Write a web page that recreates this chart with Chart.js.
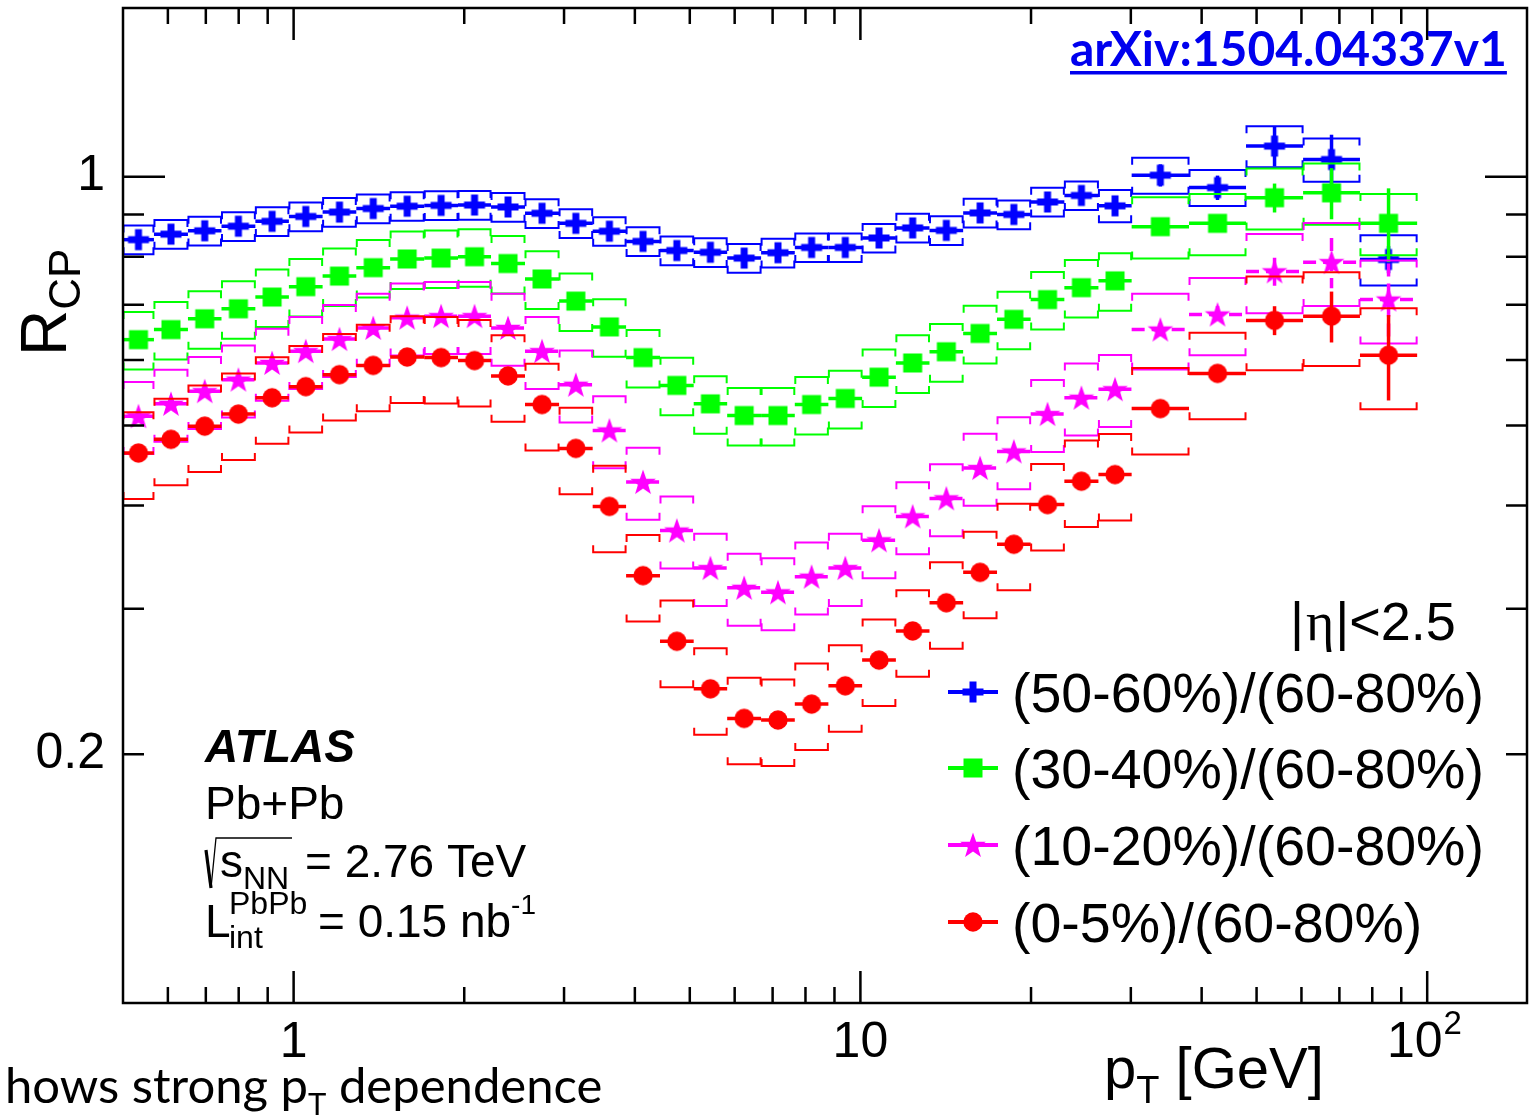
<!DOCTYPE html>
<html>
<head>
<meta charset="utf-8">
<script src="https://cdn.jsdelivr.net/npm/chart.js@4.4.1/dist/chart.umd.min.js"></script>
<style>
  html, body { margin: 0; padding: 0; background: #fff; }
  #rcpChart { display: block; }
</style>
</head>
<body>
<canvas id="rcpChart" width="1531" height="1117"></canvas>
<script>
// pT bin edges [GeV]
const ptEdges = [0.5, 0.567, 0.651, 0.746, 0.856, 0.981, 1.125, 1.29, 1.48, 1.70,
  1.95, 2.23, 2.56, 2.94, 3.37, 3.86, 4.43, 5.08, 5.82, 6.68,
  7.66, 8.78, 10.07, 11.55, 13.24, 15.18, 17.42, 19.97, 22.9, 26.3,
  30.1, 38.0, 47.9, 60.4, 76.1, 96.0];

// R_CP per bin, one array per centrality ratio
const rcp5060 = [0.839, 0.852, 0.860, 0.871, 0.883, 0.895, 0.906, 0.915, 0.921, 0.923,
  0.924, 0.919, 0.903, 0.878, 0.859, 0.835, 0.814, 0.810, 0.797, 0.809,
  0.821, 0.821, 0.843, 0.867, 0.861, 0.904, 0.900, 0.932, 0.949, 0.922,
  1.004, 0.970, 1.089, 1.049, 0.794];
const rcp3040 = [0.635, 0.653, 0.673, 0.692, 0.715, 0.736, 0.758, 0.776, 0.795, 0.797,
  0.800, 0.785, 0.752, 0.707, 0.658, 0.604, 0.559, 0.531, 0.514, 0.514,
  0.530, 0.539, 0.572, 0.595, 0.614, 0.646, 0.672, 0.710, 0.734, 0.748,
  0.870, 0.878, 0.943, 0.956, 0.878];
const rcp1020 = [0.513, 0.531, 0.550, 0.568, 0.595, 0.615, 0.636, 0.656, 0.675, 0.678,
  0.678, 0.656, 0.615, 0.560, 0.493, 0.427, 0.373, 0.336, 0.318, 0.314,
  0.328, 0.336, 0.363, 0.388, 0.408, 0.444, 0.465, 0.516, 0.540, 0.553,
  0.653, 0.681, 0.768, 0.788, 0.710];
const rcp0005 = [0.463, 0.481, 0.499, 0.516, 0.540, 0.557, 0.576, 0.591, 0.605, 0.604,
  0.599, 0.574, 0.530, 0.469, 0.399, 0.329, 0.274, 0.240, 0.221, 0.220,
  0.230, 0.242, 0.260, 0.282, 0.305, 0.332, 0.359, 0.401, 0.428, 0.436,
  0.524, 0.578, 0.670, 0.678, 0.608];

// statistical uncertainties (absolute)
const stat5060 = [0.003, 0.003, 0.003, 0.003, 0.003, 0.003, 0.003, 0.003, 0.003, 0.003,
  0.003, 0.003, 0.003, 0.003, 0.003, 0.003, 0.003, 0.003, 0.003, 0.003,
  0.004, 0.004, 0.005, 0.005, 0.006, 0.006, 0.007, 0.008, 0.009, 0.010,
  0.031, 0.033, 0.060, 0.075, 0.030];
const stat3040 = [0.003, 0.003, 0.003, 0.003, 0.003, 0.003, 0.003, 0.003, 0.003, 0.003,
  0.003, 0.003, 0.003, 0.003, 0.003, 0.003, 0.003, 0.003, 0.003, 0.003,
  0.003, 0.004, 0.004, 0.005, 0.005, 0.006, 0.007, 0.008, 0.009, 0.010,
  0.015, 0.020, 0.038, 0.068, 0.090];
const stat1020 = [0.003, 0.003, 0.003, 0.003, 0.003, 0.003, 0.003, 0.003, 0.003, 0.003,
  0.003, 0.003, 0.003, 0.003, 0.003, 0.003, 0.003, 0.003, 0.003, 0.003,
  0.003, 0.004, 0.004, 0.004, 0.005, 0.006, 0.006, 0.007, 0.008, 0.009,
  0.012, 0.016, 0.030, 0.055, 0.075];
const stat0005 = [0.003, 0.003, 0.003, 0.003, 0.003, 0.003, 0.003, 0.003, 0.003, 0.003,
  0.003, 0.003, 0.003, 0.003, 0.003, 0.003, 0.003, 0.003, 0.003, 0.003,
  0.003, 0.003, 0.004, 0.004, 0.004, 0.005, 0.005, 0.006, 0.007, 0.008,
  0.010, 0.012, 0.027, 0.048, 0.072];

// systematic uncertainties (relative)
const sys5060 = [0.04, 0.04, 0.04, 0.04, 0.04, 0.04, 0.04, 0.04, 0.04, 0.04,
  0.04, 0.04, 0.04, 0.04, 0.04, 0.04, 0.04, 0.04, 0.04, 0.04,
  0.04, 0.04, 0.04, 0.04, 0.04, 0.04, 0.04, 0.04, 0.04, 0.045,
  0.05, 0.05, 0.057, 0.06, 0.07];
const sys3040 = [0.08, 0.08, 0.08, 0.08, 0.08, 0.08, 0.08, 0.08, 0.08, 0.08,
  0.08, 0.08, 0.08, 0.08, 0.08, 0.08, 0.08, 0.08, 0.08, 0.08,
  0.08, 0.08, 0.08, 0.08, 0.08, 0.08, 0.08, 0.08, 0.08, 0.08,
  0.085, 0.085, 0.085, 0.085, 0.085];
const sys1020 = [0.10, 0.10, 0.10, 0.10, 0.10, 0.10, 0.10, 0.10, 0.10, 0.10,
  0.10, 0.10, 0.10, 0.10, 0.10, 0.10, 0.10, 0.10, 0.10, 0.10,
  0.10, 0.10, 0.10, 0.10, 0.10, 0.10, 0.10, 0.10, 0.10, 0.10,
  0.105, 0.107, 0.11, 0.115, 0.115];
const sys0005 = [0.12, 0.12, 0.12, 0.12, 0.12, 0.12, 0.12, 0.12, 0.12, 0.12,
  0.12, 0.12, 0.12, 0.12, 0.12, 0.12, 0.12, 0.12, 0.12, 0.12,
  0.12, 0.12, 0.12, 0.12, 0.12, 0.12, 0.12, 0.12, 0.12, 0.12,
  0.12, 0.12, 0.13, 0.13, 0.14];

const seriesLabels = ['(50-60%)/(60-80%)', '(30-40%)/(60-80%)', '(10-20%)/(60-80%)', '(0-5%)/(60-80%)'];

// axis ticks
const xLabelTicks = [1, 10, 100];
const xMinorTicks = [0.6, 0.7, 0.8, 0.9, 2, 3, 4, 5, 6, 7, 8, 9, 20, 30, 40, 50, 60, 70, 80, 90];
const yLabelTicks = [0.2, 1];
const yMajorTicks = [1];
const yMinorTicks = [0.2, 0.3, 0.4, 0.5, 0.6, 0.7, 0.8, 0.9];

const SANS = '"Liberation Sans", Arial, Helvetica, sans-serif';

const binCenters = ptEdges.slice(0, -1).map((lo, i) => Math.sqrt(lo * ptEdges[i + 1]));

// filled ROOT-like markers as small canvases
function makeMarker(kind, color) {
  const s = kind === 'star' ? 30 : 24;
  const c = document.createElement('canvas');
  c.width = s; c.height = s;
  const g = c.getContext('2d');
  const m = s / 2;
  g.fillStyle = color;
  if (kind === 'plus') {
    g.fillRect(m - 10.5, m - 3.5, 21, 7);
    g.fillRect(m - 3.5, m - 10.5, 7, 21);
  } else if (kind === 'square') {
    g.fillRect(m - 9.5, m - 9.5, 19, 19);
  } else if (kind === 'circle') {
    g.beginPath();
    g.arc(m, m, 9.7, 0, Math.PI * 2);
    g.fill();
  } else {
    g.beginPath();
    for (let k = 0; k < 10; k++) {
      const r = k % 2 ? 5.4 : 13.5;
      const a = -Math.PI / 2 + k * Math.PI / 5;
      g.lineTo(m + r * Math.cos(a), m + 1 + r * Math.sin(a));
    }
    g.closePath();
    g.fill();
  }
  return c;
}

function makeSeries(label, values, stat, sys, color, kind, dash, order) {
  return {
    label,
    data: binCenters.map((x, i) => ({ x, y: values[i] })),
    statErr: stat,
    sysErr: sys,
    barDash: dash,
    borderColor: color,
    backgroundColor: color,
    pointStyle: makeMarker(kind, color),
    pointRadius: 10,
    pointHoverRadius: 10,
    showLine: false,
    order
  };
}

// brackets (systematics) and bars (statistics) drawn under each series' markers
const uncertaintyPlugin = {
  id: 'uncertainties',
  beforeDatasetDraw(chart, args) {
    const ds = chart.data.datasets[args.index];
    const { ctx, chartArea: a } = chart;
    const xs = chart.scales.x, ys = chart.scales.y;
    ctx.save();
    ctx.beginPath();
    ctx.rect(a.left, a.top, a.right - a.left, a.bottom - a.top);
    ctx.clip();
    ctx.strokeStyle = ds.borderColor;
    ctx.lineWidth = 2;
    ds.data.forEach((p, i) => {
      const x0 = xs.getPixelForValue(ptEdges[i]) + 0.5;
      const x1 = xs.getPixelForValue(ptEdges[i + 1]) - 0.5;
      const up = ys.getPixelForValue(p.y * (1 + ds.sysErr[i]));
      const dn = ys.getPixelForValue(p.y * (1 - ds.sysErr[i]));
      ctx.beginPath();
      ctx.moveTo(x0, up + 7); ctx.lineTo(x0, up); ctx.lineTo(x1, up); ctx.lineTo(x1, up + 7);
      ctx.moveTo(x0, dn - 7); ctx.lineTo(x0, dn); ctx.lineTo(x1, dn); ctx.lineTo(x1, dn - 7);
      ctx.stroke();
    });
    ctx.lineWidth = 3.5;
    ctx.setLineDash(ds.barDash);
    ds.data.forEach((p, i) => {
      const xc = xs.getPixelForValue(p.x);
      const yc = ys.getPixelForValue(p.y);
      ctx.beginPath();
      ctx.moveTo(xs.getPixelForValue(ptEdges[i]), yc);
      ctx.lineTo(xs.getPixelForValue(ptEdges[i + 1]), yc);
      ctx.stroke();
      ctx.beginPath();
      ctx.moveTo(xc, ys.getPixelForValue(p.y + ds.statErr[i]));
      ctx.lineTo(xc, ys.getPixelForValue(p.y - ds.statErr[i]));
      ctx.stroke();
    });
    ctx.restore();
  }
};

// text with a sub- or superscript tail: parts = [[text, size, dy, style], ...]
function drawParts(ctx, x, y, parts) {
  parts.forEach(([t, size, dy, font]) => {
    ctx.font = (font || '') + ' ' + size + 'px ' + SANS;
    ctx.fillText(t, x, y + dy);
    x += ctx.measureText(t).width;
  });
  return x;
}

const framePlugin = {
  id: 'frame',
  afterDraw(chart) {
    const { ctx, chartArea: a } = chart;
    const xs = chart.scales.x, ys = chart.scales.y;
    ctx.save();
    ctx.strokeStyle = '#000';
    ctx.lineWidth = 2.5;
    ctx.strokeRect(a.left, a.top, a.right - a.left, a.bottom - a.top);

    // ticks point inwards on all four sides
    ctx.beginPath();
    const xTick = (v, len) => {
      const px = xs.getPixelForValue(v);
      ctx.moveTo(px, a.bottom); ctx.lineTo(px, a.bottom - len);
      ctx.moveTo(px, a.top); ctx.lineTo(px, a.top + len);
    };
    const yTick = (v, len) => {
      const py = ys.getPixelForValue(v);
      ctx.moveTo(a.left, py); ctx.lineTo(a.left + len, py);
      ctx.moveTo(a.right, py); ctx.lineTo(a.right - len, py);
    };
    xLabelTicks.forEach(v => xTick(v, 32));
    xMinorTicks.forEach(v => xTick(v, 16));
    yMajorTicks.forEach(v => yTick(v, 42));
    yMinorTicks.forEach(v => yTick(v, 21));
    ctx.stroke();

    ctx.fillStyle = '#000';
    ctx.textBaseline = 'alphabetic';
    ctx.textAlign = 'left';

    // exponent of the 10^2 tick label
    ctx.font = '50px ' + SANS;
    const tenHalf = ctx.measureText('10\u2002').width / 2;
    drawParts(ctx, xs.getPixelForValue(100) - tenHalf + ctx.measureText('10').width + 1, 1034, [['2', 33, 0]]);

    // axis titles
    ctx.save();
    ctx.translate(66, 356);
    ctx.rotate(-Math.PI / 2);
    drawParts(ctx, 0, 0, [['R', 64, 0], ['CP', 44, 14]]);
    ctx.restore();
    drawParts(ctx, 1104, 1088, [['p', 58, 0], ['T', 38, 15], [' [GeV]', 58, 0]]);

    // experiment labels
    drawParts(ctx, 205, 762, [['ATLAS', 46, 0, 'italic bold']]);
    drawParts(ctx, 205, 819, [['Pb+Pb', 46, 0]]);
    ctx.lineWidth = 3.2;
    ctx.beginPath();
    ctx.moveTo(206, 850); ctx.lineTo(211, 888);
    ctx.stroke();
    ctx.lineWidth = 1.3;
    ctx.beginPath();
    ctx.moveTo(211, 888); ctx.lineTo(216, 838); ctx.lineTo(292, 838);
    ctx.stroke();
    drawParts(ctx, 220, 877, [['s', 46, 0], ['NN', 32, 12]]);
    drawParts(ctx, 305, 877, [['= 2.76 TeV', 46, 0]]);
    drawParts(ctx, 205, 937, [['L', 46, 0]]);
    drawParts(ctx, 229, 937, [['PbPb', 32, -23]]);
    drawParts(ctx, 229, 937, [['int', 32, 11]]);
    drawParts(ctx, 318, 937, [['= 0.15 nb', 46, 0], ['-1', 28, -23]]);

    // legend
    let lx = drawParts(ctx, 1290, 640, [['|', 54, 0]]);
    ctx.font = '54px "Liberation Serif", serif';
    ctx.fillText('\u03b7', lx + 2, 640);
    lx += ctx.measureText('\u03b7').width + 3;
    drawParts(ctx, lx, 640, [['|<2.5', 54, 0]]);
    const rows = [692, 768, 845, 922];
    chart.data.datasets.forEach((ds, i) => {
      const ry = rows[i];
      ctx.strokeStyle = ds.borderColor;
      ctx.lineWidth = 4;
      ctx.beginPath();
      ctx.moveTo(948, ry); ctx.lineTo(998, ry);
      ctx.stroke();
      const img = ds.pointStyle;
      ctx.drawImage(img, 973 - img.width / 2, ry - img.height / 2);
      ctx.fillStyle = '#000';
      drawParts(ctx, 1012, ry + 20, [[ds.label, 55.5, 0]]);
    });

    // slide annotations around the plot
    ctx.fillStyle = '#0000ee';
    ctx.font = 'bold 48px Lato, "Open Sans", sans-serif';
    const link = 'arXiv:1504.04337v1';
    ctx.fillText(link, 1070, 66);
    ctx.fillRect(1070, 71, ctx.measureText(link).width, 3.5);
    ctx.fillStyle = '#000';
    ctx.font = '49px Lato, "Open Sans", sans-serif';
    let bx = 5;
    ctx.fillText('hows strong p', bx, 1103);
    bx += ctx.measureText('hows strong p').width;
    ctx.font = '31px Lato, "Open Sans", sans-serif';
    ctx.fillText('T', bx, 1115);
    bx += ctx.measureText('T').width;
    ctx.font = '49px Lato, "Open Sans", sans-serif';
    ctx.fillText(' dependence', bx, 1103);
    ctx.restore();
  }
};

const tickFont = { family: SANS, size: 50 };

new Chart(document.getElementById('rcpChart'), {
  type: 'scatter',
  data: {
    datasets: [
      makeSeries(seriesLabels[0], rcp5060, stat5060, sys5060, '#0000ff', 'plus', [], 3),
      makeSeries(seriesLabels[1], rcp3040, stat3040, sys3040, '#00ff00', 'square', [], 2),
      makeSeries(seriesLabels[2], rcp1020, stat1020, sys1020, '#ff00ff', 'star', [13, 7], 1),
      makeSeries(seriesLabels[3], rcp0005, stat0005, sys0005, '#ff0000', 'circle', [], 0)
    ]
  },
  options: {
    responsive: false,
    animation: false,
    events: [],
    layout: { autoPadding: false, padding: { top: 8, right: 4, left: 0, bottom: 0 } },
    plugins: {
      legend: { display: false },
      tooltip: { enabled: false }
    },
    scales: {
      x: {
        type: 'logarithmic',
        min: 0.5,
        max: 150,
        grid: { display: false, drawTicks: false },
        border: { display: false },
        ticks: {
          font: tickFont,
          color: '#000',
          padding: 10,
          maxRotation: 0,
          autoSkip: false,
          // the exponent of 10^2 is drawn by the frame plugin
          callback: v => (v === 100 ? '10\u2002' : String(v))
        },
        afterBuildTicks: axis => { axis.ticks = xLabelTicks.map(v => ({ value: v })); },
        afterFit: axis => {
          axis.height = 114;
          axis.paddingLeft = 0;
          axis.paddingRight = 0;
        }
      },
      y: {
        type: 'logarithmic',
        min: 0.1,
        max: 1.6,
        grid: { display: false, drawTicks: false },
        border: { display: false },
        ticks: {
          font: tickFont,
          color: '#000',
          padding: 18,
          autoSkip: false,
          callback: v => String(v)
        },
        afterBuildTicks: axis => { axis.ticks = yLabelTicks.map(v => ({ value: v })); },
        afterFit: axis => {
          axis.width = 123;
          axis.paddingTop = 0;
          axis.paddingBottom = 0;
        }
      }
    }
  },
  plugins: [uncertaintyPlugin, framePlugin]
});
</script>
</body>
</html>
